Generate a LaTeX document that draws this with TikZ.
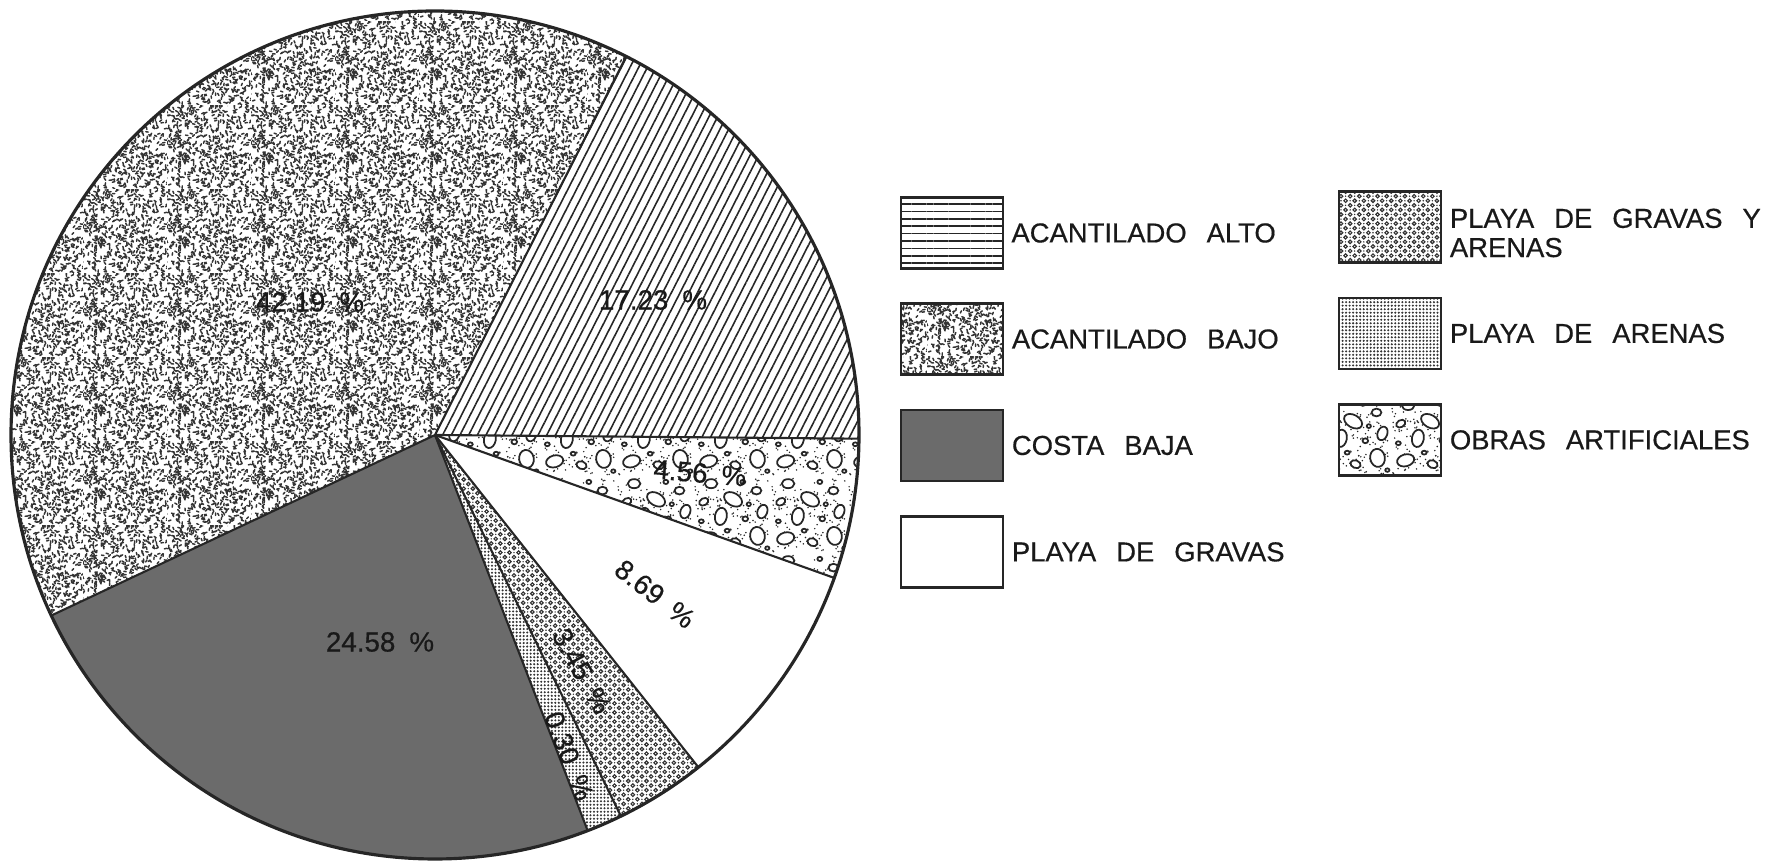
\documentclass[tikz,border=0pt]{standalone}
\usepackage{fontspec}
\setsansfont{Liberation Sans}[FakeBold=0.5]
\usetikzlibrary{patterns,patterns.meta,positioning}

\newcommand\lettering{\sffamily\fontsize{7.8}{8.3}\selectfont\spaceskip=0.2cm\relax}
\newcommand\pctfont{\sffamily\fontsize{7.9}{8.3}\selectfont\spaceskip=0.14cm\relax}
\newcommand\pierad{4.24cm}
\newcommand\pieslice[3]{\path[#1] (O) -- ++(#2:\pierad) arc[start angle=#2,end angle=#3,radius=\pierad] -- cycle;}

% random specks (acantilado bajo)
\pgfdeclarepatternformonly{stipple}{\pgfpointorigin}{\pgfqpoint{24pt}{24pt}}{\pgfqpoint{24pt}{24pt}}{%
  \pgfsetlinewidth{0.42pt}\pgfsetroundcap
  \pgfmathsetseed{7}%
  \foreach \k in {1,...,560}{%
    \pgfmathsetmacro\sx{24*rnd}\pgfmathsetmacro\sy{24*rnd}\pgfmathsetmacro\sa{180*rnd}%
    \pgfpathmoveto{\pgfpoint{\sx pt}{\sy pt}}%
    \pgfpathlineto{\pgfpointadd{\pgfpoint{\sx pt}{\sy pt}}{\pgfpointpolar{\sa}{0.7pt}}}%
    \pgfusepath{stroke}}%
}
% small rings (playa de gravas y arenas)
\pgfdeclarepatternformonly{rings}{\pgfqpoint{-0.1pt}{-0.1pt}}{\pgfqpoint{2.7pt}{2.7pt}}{\pgfqpoint{2.6pt}{2.6pt}}{%
  \pgfsetlinewidth{0.32pt}%
  \pgfpathcircle{\pgfqpoint{0.65pt}{0.65pt}}{0.5pt}%
  \pgfpathcircle{\pgfqpoint{1.95pt}{1.95pt}}{0.5pt}\pgfusepath{stroke}%
  \pgfpathcircle{\pgfqpoint{1.95pt}{0.65pt}}{0.22pt}%
  \pgfpathcircle{\pgfqpoint{0.65pt}{1.95pt}}{0.22pt}\pgfusepath{fill}%
}
% pebbles (obras artificiales)
\pgfdeclarepatterninherentlycolored{pebbles}{\pgfpointorigin}{\pgfqpoint{22pt}{22pt}}{\pgfqpoint{22pt}{22pt}}{%
  \pgfsetfillcolor{white}\pgfpathrectangle{\pgfpointorigin}{\pgfqpoint{22pt}{22pt}}\pgfusepath{fill}%
  \pgfsetfillcolor{black!85}%
  \pgfmathsetseed{11}%
  \foreach \k in {1,...,150}{%
    \pgfmathsetmacro\px{0.3+21.4*rnd}\pgfmathsetmacro\py{0.3+21.4*rnd}%
    \pgfpathcircle{\pgfpoint{\px pt}{\py pt}}{0.24pt}\pgfusepath{fill}}%
  \pgfsetlinewidth{0.5pt}\pgfsetstrokecolor{black!85}\pgfsetfillcolor{white}%
  \foreach \x/\y/\a/\b/\r in {4.2/4.2/2.5/1.7/15, 11.9/3.1/1.5/1.1/-20, 18.2/4.9/2.1/2.6/10,
      7.7/10.5/1.7/2.5/-10, 14.7/9.8/0.8/0.7/0, 19.6/11.9/2/1.4/70, 2.8/14.7/1.4/1/30,
      11.2/15.4/2.8/1.8/-30, 17.9/17.9/1.4/1.1/0, 4.9/19.9/1.8/1.3/0, 14/20.4/0.7/0.6/0,
      9.5/6.4/0.7/0.55/0, 15.7/14/0.6/0.55/0, 2.1/9.1/0.7/0.55/0, 21/1.4/0.6/0.5/0}{%
    \pgfmathsetmacro\rr{\r+90}%
    \pgfpathellipse{\pgfpoint{\x pt}{\y pt}}{\pgfpointpolar{\r}{\a pt}}{\pgfpointpolar{\rr}{\b pt}}%
    \pgfusepath{fill,stroke}}%
}

\begin{document}
\begin{tikzpicture}[
  pct/.style={font=\pctfont, text=black!90, inner sep=0pt},
  key/.style={draw=black!85, line width=0.7pt, minimum width=1.02cm, minimum height=0.71cm, inner sep=0pt},
  keytext/.style={right=0.07cm of #1, font=\lettering, text=black!90, inner sep=0pt, align=left},
  alto/.style={pattern={Lines[angle=63,distance=2.2pt,line width=0.45pt]}, pattern color=black!85},
  altokey/.style={pattern={Lines[angle=0,distance=2.1pt,line width=0.45pt]}, pattern color=black!85},
  bajo/.style={pattern=stipple, pattern color=black!80},
  costa/.style={fill=black!58},
  gravas/.style={fill=white},
  gravasarenas/.style={pattern=rings, pattern color=black!80},
  arenas/.style={pattern={Dots[distance=1pt,radius=0.33pt]}, pattern color=black!80},
  obras/.style={pattern=pebbles}]
\useasboundingbox (0,0) rectangle (17.66,8.61);
\coordinate (O) at (4.35,4.26);

% pie
\pieslice{alto}{-0.5}{63.2}
\pieslice{bajo}{63.2}{205.2}
\pieslice{costa}{205.2}{291.1}
\pieslice{arenas}{291.1}{296}
\pieslice{gravasarenas}{296}{308.4}
\pieslice{gravas}{308.4}{340.3}
\pieslice{obras}{340.3}{359.5}
\foreach \a in {-0.5,63.2,205.2,291.1,296,308.4,340.3}
  \draw[black!85,line width=0.6pt] (O) -- ++(\a:\pierad);
\draw[black!85,line width=0.9pt] (O) circle[radius=\pierad];

\node[pct] (p1) at (6.53,5.61) {17.23 \%};
\node[pct] (p2) at (3.10,5.59) {42.19 \%};
\node[pct] (p3) at (3.80,2.19) {24.58 \%};
\node[pct,rotate=-5] (p4) at (7.00,3.88) {4.56 \%};
\node[pct,rotate=-38] (p5) at (6.55,2.67) {8.69 \%};
\node[pct,rotate=-61] (p6) at (5.82,1.90) {3.45 \%};
\node[pct,rotate=-69] (p7) at (5.69,1.05) {0.30 \%};

% legend
\node[key,altokey] (kalto) at (9.52,6.28) {};
\node[key,bajo] (kbajo) [below=0.33cm of kalto] {};
\node[key,costa] (kcosta) [below=0.33cm of kbajo] {};
\node[key,gravas] (kgravas) [below=0.33cm of kcosta] {};
\node[key,gravasarenas] (kgrar) at (13.90,6.34) {};
\node[key,arenas] (karenas) [below=0.33cm of kgrar] {};
\node[key,obras] (kobras) [below=0.33cm of karenas] {};

\node[keytext=kalto] (talto) {ACANTILADO ALTO};
\node[keytext=kbajo] (tbajo) {ACANTILADO BAJO};
\node[keytext=kcosta] (tcosta) {COSTA BAJA};
\node[keytext=kgravas] (tgravas) {PLAYA DE GRAVAS};
\node[keytext=kgrar,yshift=-0.06cm] (tgrar) {PLAYA DE GRAVAS Y\\ARENAS};
\node[keytext=karenas] (tarenas) {PLAYA DE ARENAS};
\node[keytext=kobras] (tobras) {OBRAS ARTIFICIALES};
\end{tikzpicture}
\end{document}
